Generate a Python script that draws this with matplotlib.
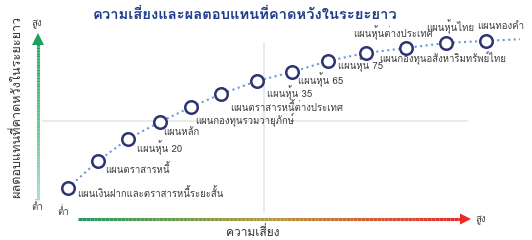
import matplotlib
matplotlib.use("Agg")
import matplotlib.pyplot as plt
import matplotlib.font_manager as fm
from matplotlib.collections import LineCollection
from matplotlib.colors import LinearSegmentedColormap
import numpy as np
from fontTools.ttLib import TTFont

# pick an installed font that has Thai glyphs
def find_thai_font():
    names = []
    for f in fm.fontManager.ttflist:
        try:
            tt = TTFont(f.fname, fontNumber=0, lazy=True)
            cmap = tt.getBestCmap()
            if cmap and 0x0E01 in cmap and 0x0E48 in cmap:
                names.append(f.name)
        except Exception:
            pass
    return names

thai = find_thai_font()
plt.rcParams['font.family'] = (thai[:1] or []) + ['DejaVu Sans']

# plans: risk (x) vs expected long-term return (y), both 0-100 scale
plans = ['แผนเงินฝากและตราสารหนี้ระยะสั้น', 'แผนตราสารหนี้', 'แผนหุ้น 20', 'แผนหลัก',
         'แผนกองทุนรวมวายุภักษ์', 'แผนตราสารหนี้ต่างประเทศ', 'แผนหุ้น 35', 'แผนหุ้น 65',
         'แผนหุ้น 75', 'แผนหุ้นต่างประเทศ', 'แผนกองทุนอสังหาริมทรัพย์ไทย', 'แผนหุ้นไทย', 'แผนทองคำ']
risk = [5.8, 12.1, 18.3, 25.0, 31.5, 37.7, 45.2, 52.5, 60.0, 67.9, 76.3, 84.6, 92.9]
ret = [13.2, 28.0, 40.1, 49.5, 57.7, 64.8, 72.0, 76.9, 83.0, 87.4, 90.1, 92.9, 94.0]

# label offsets in pixels
offsets = [(9, -5), (7, -8), (9, -9), (3, -11), (4, -13), (9, -13), (10, -12),
           (6, -8), (10, -4), (-13, 20), (-27, -10), (-20, 16), (-9, 14)]

W, H = 532, 240
fig = plt.figure(figsize=(W / 100, H / 100), dpi=100)

# overlay for axis arrows and labels (pixel coords)
bg = fig.add_axes([0, 0, 1, 1])
bg.set_xlim(0, W)
bg.set_ylim(H, 0)
bg.axis('off')

# main plotting area
ax = fig.add_axes([40 / W, (H - 212) / H, 480 / W, 182 / H])
ax.set_xlim(0, 100)
ax.set_ylim(0, 100)
ax.axis('off')

# reference grid lines
ax.axhline(50, xmin=0.006, xmax=0.89, color='#e6e6e6', lw=1.2, zorder=0)
ax.axvline(46.7, ymin=0, ymax=0.93, color='#e6e6e6', lw=1.2, zorder=0)

# trend line, extended past the last plan
x_ext = risk + [100]
slope = (ret[-1] - ret[-2]) / (risk[-1] - risk[-2])
y_ext = ret + [ret[-1] + slope * (100 - risk[-1])]
ax.plot(x_ext, y_ext, linestyle=':', color='#6a9ad6', lw=1.5, zorder=1)
ax.plot(risk, ret, 'o', ms=9, mfc='white', mec='#2b3572', mew=1.8, zorder=2)

for name, x, y, (dx, dy) in zip(plans, risk, ret, offsets):
    ax.annotate(name, (x, y), xytext=(dx, dy), textcoords='offset pixels',
                ha='left', va='center', fontsize=6.9, color='#3c3c3c')

# vertical green arrow (gradient)
n = 100
ys = np.linspace(200, 44, n)
segs = [[(38, ys[i]), (38, ys[i + 1])] for i in range(n - 1)]
gcols = [(0.10, 0.64, 0.36, a) for a in np.linspace(0.35, 1.0, n - 1)]
bg.add_collection(LineCollection(segs, colors=gcols, linewidths=2.2))
bg.fill([32, 44, 38], [45, 45, 33], color='#1aa35c', lw=0)

# horizontal risk arrow (green -> red)
cmap = LinearSegmentedColormap.from_list('risk', ['#1f9a5c', '#b89a3a', '#e8282a'])
xs = np.linspace(78, 462, n)
segs = [[(xs[i], 219), (xs[i + 1], 219)] for i in range(n - 1)]
bg.add_collection(LineCollection(segs, colors=cmap(np.linspace(0, 1, n - 1)), linewidths=2.2))
bg.fill([460, 460, 471], [213.5, 224.5, 219], color='#e8282a', lw=0)

# axis labels
bg.text(37, 24, 'สูง', fontsize=7, color='#444444', ha='center', va='center')
bg.text(37, 207, 'ต่ำ', fontsize=7, color='#444444', ha='center', va='center')
bg.text(63, 212, 'ต่ำ', fontsize=7, color='#444444', ha='center', va='center')
bg.text(481, 220, 'สูง', fontsize=7, color='#444444', ha='center', va='center')
bg.text(253, 232, 'ความเสี่ยง', fontsize=8.6, color='#333333', ha='center', va='center')
bg.text(17, 107, 'ผลตอบแทนที่คาดหวังในระยะยาว', fontsize=9.1, color='#333333',
        ha='center', va='center', rotation=90)

# title
bg.text(245, 15, 'ความเสี่ยงและผลตอบแทนที่คาดหวังในระยะยาว', fontsize=10.6,
        fontweight='bold', color='#1f3d8c', ha='center', va='center')

fig.savefig('out.png', dpi=100)
